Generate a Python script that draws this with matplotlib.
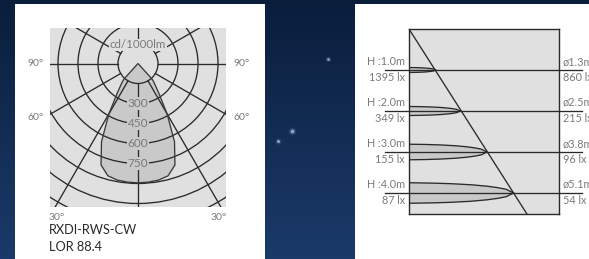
import numpy as np
import matplotlib
matplotlib.use("Agg")
import matplotlib.pyplot as plt
from matplotlib.patches import Rectangle, Circle, Polygon
from matplotlib.colors import LinearSegmentedColormap

plt.rcParams['font.family'] = ['Lato', 'DejaVu Sans']

W, H = 589, 259

# --- polar diagram data (cd/1000lm against angle from nadir, symmetric) ---
beam_angles = [0, 5, 10, 15, 20, 25, 30, 35, 40, 42]
beam_cd = [895, 893, 888, 872, 810, 648, 437, 272, 188, 160]
ring_cd = [150, 300, 450, 600, 750, 900, 1050, 1200]
ring_labels = [300, 450, 600, 750]
spoke_angles = [-120, -90, -60, -30, 30, 60, 90, 120]

# --- illuminance cone data ---
heights = [1.0, 2.0, 3.0, 4.0]
centre_lux = [1395, 349, 155, 87]
diameters = [1.3, 2.5, 3.8, 5.1]
edge_lux = [860, 215, 96, 54]
lobe_half = [0.06, 0.11, 0.19, 0.25]
# lobe outline: fraction of radius -> fraction of half width
lobe_frac = [0, 0.2, 0.4, 0.6, 0.75, 0.85, 0.93, 1.0]
lobe_w = [1.0, 0.97, 0.91, 0.8, 0.66, 0.52, 0.36, 0.0]

GRID = '#e0e0e0'
FILL = '#c9c9c9'
LINE = '#2a2a2a'
TXT = '#7a7a7a'


def box(x0, y0, x1, y1):
    return [x0 / W, 1 - y1 / H, (x1 - x0) / W, (y1 - y0) / H]


def ftext(x, y, s, **kw):
    fig.text(x / W, 1 - y / H, s, **kw)


fig = plt.figure(figsize=(W / 100, H / 100), dpi=100)

# background + white panels
bg = fig.add_axes([0, 0, 1, 1])
bg.set_axis_off()
grad = np.linspace(0, 1, 100)[:, None]
cmap = LinearSegmentedColormap.from_list('bg', ['#0a1e3c', '#1b3a6a'])
bg.imshow(grad, aspect='auto', cmap=cmap, extent=[0, 1, 0, 1])
for sx, sy, ss in [(292, 131, 8), (278, 141, 5), (328, 59, 4)]:
    bg.scatter(sx / W, 1 - sy / H, s=ss * 4, color='#5f7fa8', alpha=0.25, lw=0)
    bg.scatter(sx / W, 1 - sy / H, s=ss, color='#b8c8e0', alpha=0.7, lw=0)
bg.add_patch(Rectangle((15 / W, 0), 250 / W, 1 - 4 / H, facecolor='white', edgecolor='none'))
bg.add_patch(Rectangle((355 / W, 0), 234 / W, 1 - 4 / H, facecolor='white', edgecolor='none'))
bg.set_xlim(0, 1)
bg.set_ylim(0, 1)

# ---------------- left: polar luminous intensity ----------------
k = 7.5  # cd per pixel
cx, cy = 138, 63.5
ax = fig.add_axes(box(50, 28, 226, 207))
ax.set_facecolor(GRID)
ax.set_xlim((50 - cx) * k, (226 - cx) * k)
ax.set_ylim(-(207 - cy) * k, (cy - 28) * k)
for s in ax.spines.values():
    s.set_visible(False)
ax.set_xticks([])
ax.set_yticks([])

th = np.radians(beam_angles)
r = np.array(beam_cd)
xs = np.concatenate([-(r * np.sin(th))[::-1], r * np.sin(th)])
ys = np.concatenate([-(r * np.cos(th))[::-1], -(r * np.cos(th))])
pts = np.column_stack([np.append(xs, 0), np.append(ys, 0)])
ax.add_patch(Polygon(pts, closed=True, facecolor=FILL, edgecolor='none', zorder=1))

for rc in ring_cd:
    ax.add_patch(Circle((0, 0), rc, fill=False, edgecolor=LINE, lw=0.95, zorder=2))
r0, r1 = ring_cd[0], 3000
for a in spoke_angles:
    t = np.radians(a)
    ax.plot([r0 * np.sin(t), r1 * np.sin(t)], [-r0 * np.cos(t), -r1 * np.cos(t)],
            color=LINE, lw=0.95, zorder=2)
ax.plot([0, 0], [-r0, -r1], color=LINE, lw=0.95, zorder=2)
ax.plot([0, 0], [r0, r1], color=LINE, lw=0.95, zorder=2)

ax.add_patch(Polygon(pts, closed=True, facecolor='none', edgecolor='#3a3a3a', lw=0.95, zorder=3))

for v in ring_labels:
    ax.text(0, -v, str(v), ha='center', va='center', fontsize=8.5, color=TXT, zorder=4,
            bbox=dict(facecolor=FILL, edgecolor='none', pad=0.5))
ax.text(0, 140, 'cd/1000lm', ha='center', va='center', fontsize=8.3, color=TXT, zorder=4,
        bbox=dict(facecolor=GRID, edgecolor='none', pad=0.3))

lab = dict(fontsize=7.5, color=TXT, va='center')
ftext(28, 63, '90°', ha='left', **lab)
ftext(233, 63, '90°', ha='left', **lab)
ftext(28, 118, '60°', ha='left', **lab)
ftext(233, 118, '60°', ha='left', **lab)
ftext(49, 217, '30°', ha='left', **lab)
ftext(211, 217, '30°', ha='left', **lab)
ftext(49, 230, 'RXDI-RWS-CW', ha='left', va='center', fontsize=9.2, color='#2a2a2a')
ftext(49, 247, 'LOR 88.4', ha='left', va='center', fontsize=9.2, color='#2a2a2a')

# ---------------- right: illuminance cone ----------------
s = 41.0  # px per metre
bx = fig.add_axes(box(409, 29, 559, 214))
bx.set_facecolor(GRID)
xmax, hmax = 150 / s, 185 / s
bx.set_xlim(0, xmax)
bx.set_ylim(hmax, 0)
bx.set_xticks([])
bx.set_yticks([])
for sp in bx.spines.values():
    sp.set_color(LINE)
    sp.set_linewidth(1.0)

slope = diameters[-1] / 2 / heights[-1]
bx.plot([0, slope * hmax], [0, hmax], color=LINE, lw=0.95, zorder=3)

frac = np.array(lobe_frac)
wf = np.array(lobe_w)
for h, d, hw, cl, el in zip(heights, diameters, lobe_half, centre_lux, edge_lux):
    rad = d / 2
    bx.fill_between(frac * rad, h - hw * wf, h + hw * wf, facecolor=FILL, edgecolor='none', zorder=1)
    bx.plot(frac * rad, h - hw * wf, color=LINE, lw=0.95, zorder=2)
    bx.plot(frac * rad, h + hw * wf, color=LINE, lw=0.95, zorder=2)
    bx.plot([-24 / s, xmax + 23 / s], [h, h], color=LINE, lw=0.95, zorder=2, clip_on=False)
    bx.text(-4 / s, h - 3 / s, f'H :{h:.1f}m', ha='right', va='bottom', fontsize=7.8, color=TXT)
    bx.text(-4 / s, h + 2 / s, f'{cl} lx', ha='right', va='top', fontsize=7.8, color=TXT)
    bx.text(xmax + 4 / s, h - 3 / s, f'ø{d:.1f}m', ha='left', va='bottom', fontsize=7.8,
            color=TXT, clip_on=False)
    bx.text(xmax + 4 / s, h + 2 / s, f'{el} lx', ha='left', va='top', fontsize=7.8,
            color=TXT, clip_on=False)

fig.savefig('out.png', dpi=100)
